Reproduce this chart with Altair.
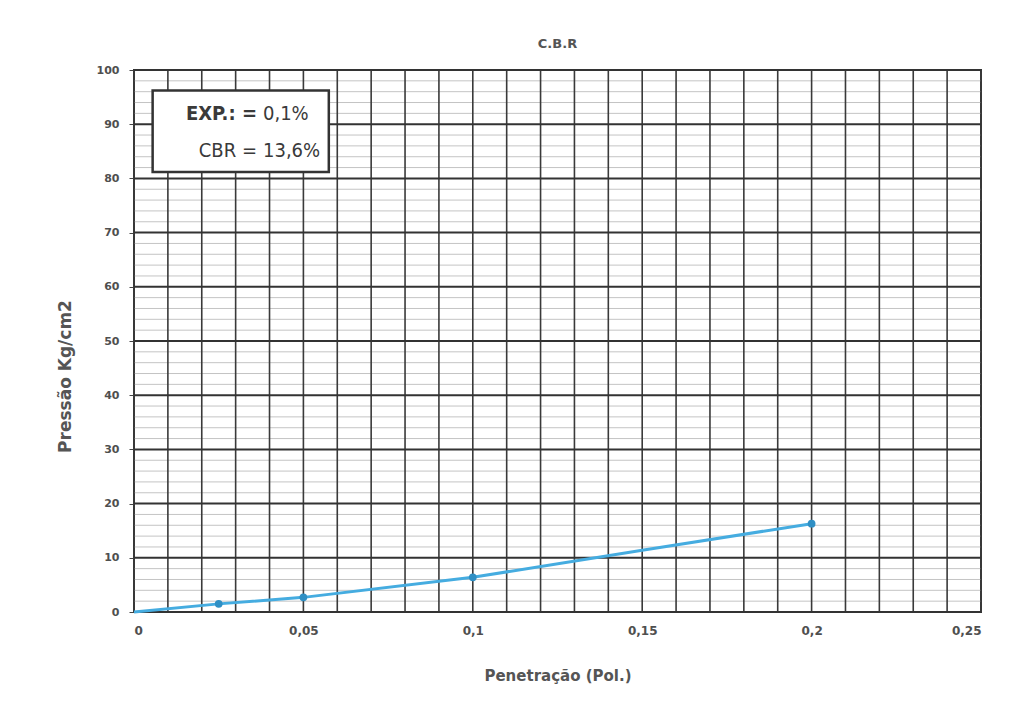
import altair as alt
import pandas as pd

# data
pen = [0, 0.025, 0.05, 0.1, 0.15, 0.2]
pres = [0, 1.5, 2.7, 6.4, 11.4, 16.3]
mark_pen = [0.025, 0.05, 0.1, 0.2]
mark_pres = [1.5, 2.7, 6.4, 16.3]

x_grid = [round(i * 0.01, 2) for i in range(0, 26)]
x_labels = [0, 0.05, 0.1, 0.15, 0.2, 0.25]
y_major = list(range(0, 101, 10))
y_minor = [v for v in range(0, 101, 2) if v % 10 != 0]

note_lines = ["EXP.: =", "CBR ="]
note_vals = ["0,1%", "13,6%"]
note_bold = [True, False]
note_y = [91.8, 85.0]
box = {"x": 0.0055, "x2": 0.0575, "y": 81.2, "y2": 96.2}

line_df = pd.DataFrame({"x": pen, "y": pres})
mk_df = pd.DataFrame({"x": mark_pen, "y": mark_pres})
xg_df = pd.DataFrame({"x": x_grid})
ymaj_df = pd.DataFrame({"y": y_major})
ymin_df = pd.DataFrame({"y": y_minor})
box_df = pd.DataFrame([box])
note_df = pd.DataFrame({"lab": note_lines, "val": note_vals, "y": note_y, "b": note_bold})

xs = alt.Scale(domain=[0, 0.25], nice=False, zero=False)
ys = alt.Scale(domain=[0, 100], nice=False)

lab_color = "#4f4f4f"
wide = "DejaVu Sans"
narrow = "DejaVu Sans Condensed, Liberation Sans Narrow, Liberation Sans"
xaxis = alt.Axis(values=x_labels, format="~g", labelExpr="replace(datum.label, '.', ',')",
                 grid=False, ticks=False, domain=False, labelPadding=13,
                 labelFont=wide, labelFontWeight="bold", labelFontSize=12,
                 labelColor=lab_color, title="Penetração (Pol.)", titleFont=wide,
                 titleFontSize=15, titleFontWeight="bold", titleColor="#555555", titlePadding=32)
yaxis = alt.Axis(values=y_major, grid=False, tickSize=5, tickColor="#444", domain=False,
                 labelPadding=10, labelFont=wide, labelFontWeight="bold",
                 labelFontSize=11, labelColor=lab_color, title="Pressão Kg/cm2",
                 titleFont=wide, titleFontSize=17, titleFontWeight="bold",
                 titleColor="#555555", titlePadding=22, titleY=306)

minor = alt.Chart(ymin_df).mark_rule(color="#c4c4c4", strokeWidth=1).encode(
    y=alt.Y("y:Q", scale=ys, axis=yaxis))
vert = alt.Chart(xg_df).mark_rule(color="#3a3a3a", strokeWidth=1.6).encode(
    x=alt.X("x:Q", scale=xs, axis=xaxis))
major = alt.Chart(ymaj_df).mark_rule(color="#333333", strokeWidth=2).encode(
    y=alt.Y("y:Q", scale=ys))
line = alt.Chart(line_df).mark_line(color="#45ace0", strokeWidth=3).encode(
    x=alt.X("x:Q", scale=xs), y=alt.Y("y:Q", scale=ys))
pts = alt.Chart(mk_df).mark_point(filled=True, color="#2f8fc4", size=60, opacity=1).encode(
    x=alt.X("x:Q", scale=xs), y=alt.Y("y:Q", scale=ys))
rect = alt.Chart(box_df).mark_rect(fill="white", stroke="#333333", strokeWidth=2.5).encode(
    x=alt.X("x:Q", scale=xs), x2="x2:Q", y=alt.Y("y:Q", scale=ys), y2="y2:Q")
t1a = alt.Chart(note_df).transform_filter("datum.b").mark_text(
    align="right", font=narrow, fontSize=20, fontWeight="bold", color="#3a3a3a").encode(
    x=alt.value(123), y=alt.Y("y:Q", scale=ys), text="lab:N")
t1b = alt.Chart(note_df).transform_filter("!datum.b").mark_text(
    align="right", font=narrow, fontSize=20, color="#3a3a3a").encode(
    x=alt.value(123), y=alt.Y("y:Q", scale=ys), text="lab:N")
t2 = alt.Chart(note_df).mark_text(align="left", font=narrow, fontSize=20,
                                  color="#3a3a3a").encode(
    x=alt.value(129), y=alt.Y("y:Q", scale=ys), text="val:N")

chart = alt.layer(minor, vert, major, line, pts, rect, t1a, t1b, t2).properties(
    width=847, height=542,
    title=alt.TitleParams("C.B.R", font=wide, fontSize=13, fontWeight="bold",
                          color="#555555", offset=13),
    autosize=alt.AutoSizeParams(type="none"),
    padding={"left": 126, "top": 62, "right": 40, "bottom": 90},
).configure_view(stroke="#333333", strokeWidth=2)

chart.save("out.html", embed_options={"renderer": "svg", "actions": False})
